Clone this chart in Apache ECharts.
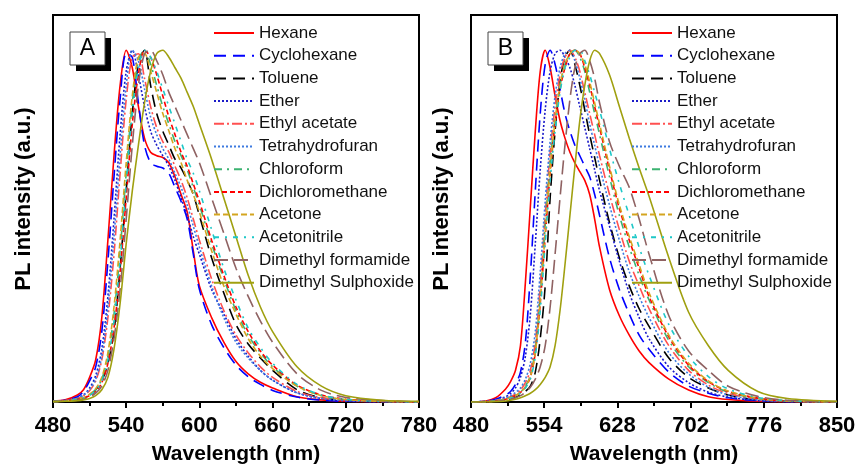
<!DOCTYPE html>
<html>
<head>
<meta charset="utf-8">
<script src="https://cdn.jsdelivr.net/npm/echarts@6/dist/echarts.min.js"></script>
<style>
html,body{margin:0;padding:0;background:#fff;}
#chart{width:857px;height:466px;}
</style>
</head>
<body>
<div id="chart"></div>
<script>
// ---------- DATA ----------
const NAMES = ['Hexane','Cyclohexane','Toluene','Ether','Ethyl acetate','Tetrahydrofuran','Chloroform','Dichloromethane','Acetone','Acetonitrile','Dimethyl formamide','Dimethyl Sulphoxide'];

// Panel A wavelengths (nm)
const A_WL = [480,490,500,505,510,515,520,525,530,535,540,545,550,555,560,565,570,575,580,585,590,595,600,610,620,630,640,650,660,680,700,720,750,780];
const hexA  = [0.003,0.006,0.02,0.035,0.07,0.12,0.24,0.46,0.7,0.9,1.0,0.95,0.84,0.75,0.71,0.70,0.695,0.68,0.64,0.59,0.54,0.43,0.33,0.24,0.17,0.115,0.08,0.056,0.04,0.015,0.006,0.002,0.001,0];
const cycA  = [0.002,0.005,0.015,0.03,0.06,0.1,0.2,0.4,0.64,0.86,0.99,0.98,0.85,0.73,0.68,0.67,0.665,0.65,0.61,0.57,0.52,0.42,0.32,0.22,0.155,0.105,0.072,0.05,0.033,0.014,0.005,0.002,0.001,0];
const tolA  = [0.001,0.003,0.008,0.012,0.02,0.035,0.06,0.11,0.2,0.38,0.6,0.82,0.96,1.0,0.9,0.82,0.77,0.73,0.69,0.665,0.63,0.59,0.53,0.41,0.31,0.22,0.165,0.125,0.09,0.035,0.012,0.005,0.002,0];
const ethA  = [0.002,0.004,0.012,0.02,0.04,0.075,0.15,0.3,0.52,0.76,0.94,1.0,0.93,0.84,0.77,0.73,0.7,0.67,0.63,0.58,0.53,0.47,0.42,0.32,0.25,0.18,0.13,0.09,0.062,0.026,0.01,0.004,0.001,0];
const eaA   = [0.002,0.004,0.01,0.018,0.032,0.06,0.12,0.24,0.42,0.65,0.86,0.98,0.99,0.92,0.84,0.78,0.74,0.71,0.67,0.63,0.58,0.52,0.46,0.35,0.26,0.19,0.14,0.1,0.07,0.03,0.012,0.005,0.002,0];
const thfA  = [0.002,0.004,0.011,0.02,0.036,0.065,0.13,0.27,0.47,0.7,0.9,1.0,0.97,0.89,0.81,0.76,0.72,0.69,0.65,0.61,0.56,0.5,0.44,0.33,0.24,0.17,0.125,0.09,0.062,0.026,0.01,0.004,0.001,0];
const chlA  = [0.001,0.003,0.007,0.012,0.02,0.035,0.065,0.13,0.25,0.43,0.65,0.85,0.97,1.0,0.96,0.9,0.84,0.79,0.74,0.7,0.66,0.61,0.56,0.45,0.35,0.26,0.19,0.14,0.1,0.045,0.018,0.007,0.002,0];
const dcmA  = [0.001,0.003,0.007,0.011,0.018,0.03,0.055,0.11,0.21,0.37,0.58,0.79,0.93,1.0,0.98,0.93,0.87,0.81,0.76,0.71,0.67,0.62,0.57,0.46,0.36,0.27,0.2,0.145,0.105,0.048,0.02,0.008,0.002,0];
const aceA  = [0.001,0.003,0.008,0.013,0.022,0.038,0.07,0.14,0.27,0.46,0.68,0.87,0.98,0.99,0.94,0.88,0.82,0.77,0.72,0.68,0.63,0.59,0.54,0.43,0.33,0.25,0.18,0.13,0.095,0.045,0.018,0.007,0.002,0];
const acnA  = [0.001,0.003,0.007,0.011,0.019,0.032,0.06,0.12,0.23,0.4,0.62,0.82,0.95,1.0,0.98,0.94,0.89,0.84,0.79,0.74,0.69,0.65,0.6,0.49,0.38,0.29,0.21,0.155,0.11,0.05,0.02,0.008,0.002,0];
const dmfA  = [0.001,0.002,0.005,0.008,0.014,0.025,0.045,0.09,0.18,0.32,0.52,0.73,0.9,0.99,1.0,0.97,0.93,0.88,0.84,0.8,0.76,0.72,0.68,0.58,0.48,0.38,0.3,0.23,0.17,0.08,0.033,0.013,0.004,0.001];
const dmsoA = [0.001,0.002,0.004,0.006,0.01,0.018,0.035,0.07,0.15,0.28,0.45,0.6,0.73,0.85,0.94,0.99,1.0,0.98,0.95,0.92,0.88,0.84,0.79,0.69,0.58,0.47,0.36,0.27,0.2,0.1,0.045,0.018,0.005,0.002];

// Panel B wavelengths (nm)
const B_WL = [480,495,505,515,520,525,530,535,540,545,550,555,560,565,570,575,580,585,590,595,600,605,610,620,630,640,650,660,680,700,720,740,770,800,850];
const hexB  = [0,0.003,0.012,0.037,0.058,0.09,0.16,0.34,0.555,0.77,0.94,1.0,0.95,0.87,0.8,0.75,0.71,0.68,0.655,0.63,0.59,0.52,0.44,0.32,0.245,0.19,0.145,0.112,0.065,0.034,0.015,0.007,0.002,0.001,0];
const cycB  = [0,0.002,0.008,0.02,0.03,0.05,0.085,0.17,0.36,0.6,0.82,0.96,1.0,0.96,0.89,0.82,0.77,0.73,0.7,0.67,0.64,0.59,0.53,0.41,0.32,0.25,0.19,0.15,0.085,0.045,0.025,0.012,0.004,0.001,0];
const tolB  = [0,0.001,0.003,0.006,0.009,0.013,0.02,0.03,0.045,0.085,0.18,0.33,0.58,0.77,0.91,0.98,1.0,0.96,0.9,0.83,0.76,0.695,0.63,0.51,0.41,0.33,0.265,0.215,0.125,0.07,0.04,0.02,0.006,0.002,0];
const ethB  = [0,0.002,0.006,0.015,0.024,0.04,0.07,0.13,0.25,0.45,0.66,0.83,0.94,0.99,1.0,0.98,0.95,0.9,0.84,0.78,0.72,0.66,0.6,0.5,0.4,0.31,0.24,0.18,0.1,0.055,0.028,0.014,0.004,0.001,0];
const eaB   = [0,0.001,0.004,0.01,0.015,0.022,0.034,0.055,0.09,0.17,0.33,0.53,0.71,0.84,0.93,0.98,1.0,0.98,0.94,0.88,0.82,0.76,0.7,0.59,0.49,0.4,0.33,0.265,0.16,0.09,0.048,0.024,0.008,0.002,0];
const thfB  = [0,0.002,0.005,0.012,0.018,0.027,0.04,0.065,0.11,0.2,0.37,0.57,0.74,0.87,0.95,0.99,1.0,0.97,0.92,0.86,0.79,0.73,0.67,0.56,0.46,0.37,0.3,0.24,0.14,0.08,0.042,0.02,0.006,0.002,0];
const chlB  = [0,0.001,0.003,0.008,0.012,0.018,0.028,0.045,0.075,0.15,0.3,0.5,0.68,0.81,0.9,0.96,0.99,1.0,0.98,0.94,0.88,0.82,0.76,0.64,0.53,0.44,0.36,0.29,0.175,0.1,0.055,0.028,0.01,0.003,0];
const dcmB  = [0,0.001,0.003,0.008,0.012,0.018,0.027,0.042,0.07,0.14,0.28,0.47,0.65,0.79,0.89,0.95,0.99,1.0,0.99,0.95,0.9,0.84,0.78,0.66,0.55,0.46,0.38,0.3,0.185,0.105,0.058,0.03,0.011,0.003,0];
const aceB  = [0,0.001,0.003,0.008,0.012,0.018,0.027,0.043,0.072,0.14,0.29,0.48,0.66,0.8,0.9,0.96,0.99,1.0,0.99,0.96,0.91,0.85,0.79,0.67,0.56,0.47,0.39,0.31,0.19,0.11,0.06,0.031,0.011,0.003,0];
const acnB  = [0,0.001,0.003,0.007,0.011,0.016,0.025,0.04,0.065,0.13,0.26,0.45,0.63,0.77,0.88,0.95,0.98,1.0,1.0,0.97,0.93,0.88,0.83,0.72,0.62,0.53,0.44,0.36,0.22,0.13,0.072,0.037,0.013,0.004,0];
const dmfB  = [0,0.001,0.002,0.005,0.008,0.012,0.018,0.028,0.042,0.065,0.1,0.16,0.27,0.42,0.58,0.73,0.86,0.95,0.99,1.0,0.97,0.92,0.85,0.74,0.67,0.61,0.52,0.42,0.245,0.145,0.09,0.045,0.016,0.005,0.001];
const dmsoB = [0,0,0.001,0.003,0.005,0.008,0.012,0.018,0.025,0.035,0.05,0.07,0.1,0.16,0.26,0.39,0.53,0.67,0.8,0.9,0.97,1.0,0.99,0.93,0.84,0.75,0.665,0.585,0.41,0.255,0.16,0.09,0.03,0.01,0.002];

const A_VALUES = [hexA,cycA,tolA,ethA,eaA,thfA,chlA,dcmA,aceA,acnA,dmfA,dmsoA];
const B_VALUES = [hexB,cycB,tolB,ethB,eaB,thfB,chlB,dcmB,aceB,acnB,dmfB,dmsoB];

// tick settings
const A_TICKS = {min:480, max:780, interval:60};
const B_TICKS = {min:480, max:850, interval:74};

// ---------- STYLES ----------
const STYLES = [
  {color:'#ff0000', type:'solid'},
  {color:'#0000ff', type:[12,7]},
  {color:'#000000', type:[12,7]},
  {color:'#1a1ac8', type:[2,2]},
  {color:'#ff5050', type:[10,3,2,3]},
  {color:'#3d7ae0', type:[2,2]},
  {color:'#3cb371', type:[8,5,2,5]},
  {color:'#ff0000', type:[5,3]},
  {color:'#d4a520', type:[6,3]},
  {color:'#1ec8c8', type:[5,6,2,6]},
  {color:'#8f6262', type:[14,6]},
  {color:'#a0a010', type:'solid'}
];

const series = [];
function addPanel(wl, values, idx) {
  values.forEach((vals, i) => {
    series.push({
      name: NAMES[i],
      type: 'line',
      xAxisIndex: idx, yAxisIndex: idx,
      data: wl.map((w, k) => [w, vals[k]]),
      showSymbol: false, symbol: 'none',
      smooth: 0.3,
      lineStyle: {color: STYLES[i].color, type: STYLES[i].type, width: 1.6},
      itemStyle: {color: STYLES[i].color},
      animation: false,
      silent: true
    });
  });
}
addPanel(A_WL, A_VALUES, 0);
addPanel(B_WL, B_VALUES, 1);

const FONT = 'Liberation Sans, Arial, sans-serif';

function xAxis(idx, t) {
  return {
    type: 'value', gridIndex: idx, min: t.min, max: t.max, interval: t.interval,
    name: 'Wavelength (nm)', nameLocation: 'middle', nameGap: 42,
    nameTextStyle: {fontFamily: FONT, fontWeight: 'bold', fontSize: 21, color: '#000'},
    axisLine: {lineStyle: {color: '#000', width: 2}},
    axisTick: {show: true, inside: false, length: 6, lineStyle: {color: '#000', width: 2}},
    minorTick: {show: true, splitNumber: 2, length: 4, lineStyle: {color: '#000', width: 2}},
    axisLabel: {fontFamily: FONT, fontWeight: 'bold', fontSize: 22, color: '#000', margin: 13, showMaxLabel: true, showMinLabel: true, hideOverlap: false},
    splitLine: {show: false}
  };
}
function yAxis(idx) {
  return {
    type: 'value', gridIndex: idx, min: 0, max: 1.1,
    axisLine: {show: true, lineStyle: {color: '#000', width: 2}},
    axisTick: {show: false}, axisLabel: {show: false}, splitLine: {show: false}
  };
}
function legend(left) {
  return {
    orient: 'vertical', left: left, top: 24, padding: 0,
    itemWidth: 40, itemHeight: 12, itemGap: 4.7,
    selectedMode: false,
    itemStyle: {opacity: 0, borderWidth: 0},
    textStyle: {fontFamily: FONT, fontSize: 17, color: '#111', lineHeight: 18},
    data: NAMES
  };
}

const option = {
  backgroundColor: '#fff',
  animation: false,
  grid: [
    {left: 53, top: 15, width: 366, height: 387, show: true, borderColor: '#000', borderWidth: 2, backgroundColor: 'transparent', containLabel: false, outerBoundsMode: 'none'},
    {left: 471, top: 15, width: 366, height: 387, show: true, borderColor: '#000', borderWidth: 2, backgroundColor: 'transparent', containLabel: false, outerBoundsMode: 'none'}
  ],
  xAxis: [xAxis(0, A_TICKS), xAxis(1, B_TICKS)],
  yAxis: [yAxis(0), yAxis(1)],
  legend: [legend(213), legend(631)],
  graphic: [
    {type: 'rect', shape: {x: 76, y: 38, width: 35, height: 33}, style: {fill: '#000'}},
    {type: 'rect', shape: {x: 70, y: 32, width: 35, height: 33}, style: {fill: '#fff', stroke: '#444', lineWidth: 1}},
    {type: 'text', x: 87.5, y: 49, style: {text: 'A', fontFamily: FONT, fontSize: 23, fill: '#000', textAlign: 'center', textVerticalAlign: 'middle'}},
    {type: 'rect', shape: {x: 494, y: 38, width: 35, height: 33}, style: {fill: '#000'}},
    {type: 'rect', shape: {x: 488, y: 32, width: 35, height: 33}, style: {fill: '#fff', stroke: '#444', lineWidth: 1}},
    {type: 'text', x: 505.5, y: 49, style: {text: 'B', fontFamily: FONT, fontSize: 23, fill: '#000', textAlign: 'center', textVerticalAlign: 'middle'}},
    {type: 'text', x: 24, y: 199, rotation: Math.PI/2, style: {text: 'PL intensity (a.u.)', fontFamily: FONT, fontWeight: 'bold', fontSize: 22, fill: '#000', textAlign: 'center', textVerticalAlign: 'middle'}},
    {type: 'text', x: 442, y: 199, rotation: Math.PI/2, style: {text: 'PL intensity (a.u.)', fontFamily: FONT, fontWeight: 'bold', fontSize: 22, fill: '#000', textAlign: 'center', textVerticalAlign: 'middle'}}
  ],
  series: series
};

const chart = echarts.init(document.getElementById('chart'), null, {renderer: 'canvas'});
chart.setOption(option);
</script>
</body>
</html>
